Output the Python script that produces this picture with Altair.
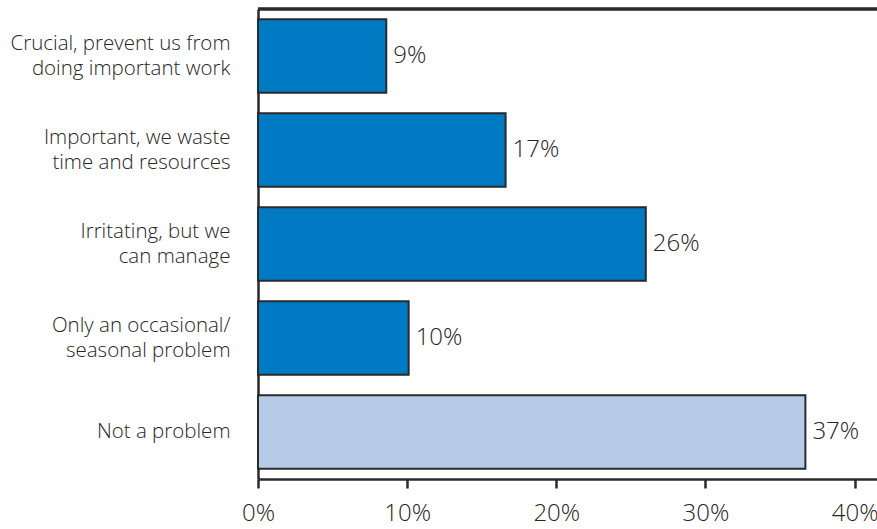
import altair as alt
import pandas as pd

categories = [
    "Crucial, prevent us from\ndoing important work",
    "Important, we waste\ntime and resources",
    "Irritating, but we\ncan manage",
    "Only an occasional/\nseasonal problem",
    "Not a problem",
]
values = [8.6, 16.6, 26.0, 10.1, 36.7]
labels = ["9%", "17%", "26%", "10%", "37%"]
groups = ["problem", "problem", "problem", "problem", "none"]

df = pd.DataFrame({"cat": categories, "val": values, "lab": labels, "grp": groups})

FONT = "Open Sans"
TXT = "#262626"
WEIGHT = 300

base = alt.Chart(df)

bars = base.mark_bar(stroke="#2a2a2a", strokeWidth=2).encode(
    y=alt.Y("cat:N", sort=None, title=None,
            scale=alt.Scale(paddingInner=0.22, paddingOuter=0.11),
            axis=alt.Axis(labelExpr="split(datum.label, '\\n')", ticks=False,
                          domainColor="#2a2a2a", domainWidth=2.5,
                          labelFont=FONT, labelFontSize=20.5, labelColor=TXT,
                          labelFontWeight=WEIGHT,
                          labelPadding=28, labelLimit=300, labelLineHeight=24.5,
                          labelOffset={"condition": {"test": "indexof(datum.value, '\\n') >= 0", "value": -12},
                                       "value": 0})),
    x=alt.X("val:Q", title=None,
            scale=alt.Scale(domain=[0, 41.5], nice=False),
            axis=alt.Axis(values=[0, 10, 20, 30, 40], labelExpr="datum.value + '%'",
                          grid=False, domainColor="#2a2a2a", domainWidth=2.5,
                          tickColor="#2a2a2a", tickWidth=2.5, tickSize=9,
                          labelFont=FONT, labelFontSize=24, labelColor=TXT,
                          labelFontWeight=WEIGHT,
                          labelPadding=13, labelFlush=False)),
    color=alt.Color("grp:N", legend=None,
                    scale=alt.Scale(domain=["problem", "none"], range=["#007bc3", "#b5cbe8"])),
)

text = base.mark_text(align="left", baseline="middle", dx=7, font=FONT, fontSize=24,
                      fontWeight=WEIGHT, color=TXT).encode(
    y=alt.Y("cat:N", sort=None),
    x=alt.X("val:Q"),
    text="lab:N",
)

top = alt.Chart(df).mark_rule(color="#2a2a2a", strokeWidth=2.5).encode(
    y=alt.value(0), x=alt.value(0), x2=alt.value(619)
)

chart = alt.layer(bars, text, top).properties(
    width=619, height=470,
    autosize=alt.AutoSizeParams(type="none"),
    padding={"left": 258, "top": 9, "right": 0, "bottom": 50},
).configure_view(stroke=None).configure(background="white")

chart.save("out.html", embed_options={"renderer": "svg", "actions": False})
